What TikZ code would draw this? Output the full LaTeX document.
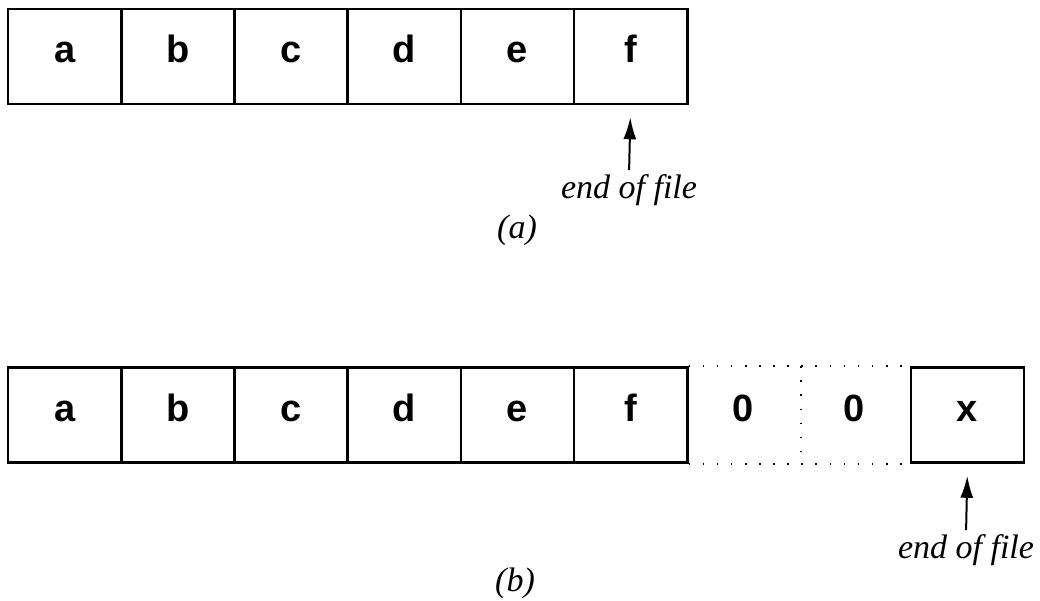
\documentclass[tikz,border=0pt]{standalone}
\usepackage{fontspec}
\setmainfont{Liberation Serif}
\setsansfont{Liberation Sans}
\usetikzlibrary{arrows.meta}
\tikzset{
  pix/.style={x={(1pt,0pt)}, y={(0pt,-1pt)}},
  cell/.style={draw=black, line width=2.6pt, minimum width=113.2pt, minimum height=95pt,
    inner sep=0pt, text height=27pt, text depth=14pt,
    font=\sffamily\bfseries\fontsize{38}{40}\selectfont},
  gcell/.style={cell, draw=none},                                   % cell of the gap (zeros)
  gline/.style={black, line width=1.6pt, dash pattern=on 1.6pt off 12.5pt}, % dotted gap outline
  eof/.style={font=\itshape\fontsize{34}{36}\selectfont, inner sep=0pt},
  partlabel/.style={font=\itshape\fontsize{34}{36}\selectfont, inner sep=0pt},
  eofarrow/.style={black, line width=2pt, -{Latex[length=22pt,width=13pt]}},
}
\begin{document}
\begin{tikzpicture}[pix]
  \useasboundingbox (0,0) rectangle (1040,601);
  % (a) the file as written
  \foreach \l [count=\i] in {a,b,c,d,e,f}
    \node[cell] (\l A) at ({8+113.2*(\i-0.5)},56.5) {\l};
  \node[eof] (eofA) at (629,190) {end of file};
  \draw[eofarrow, shorten <=4pt, shorten >=12pt] (eofA.north) -- (fA.south);
  \node[partlabel] (capA) at (517,230) {(a)};
  % (b) after a seek past the end and a write
  \foreach \l [count=\i] in {a,b,c,d,e,f}
    \node[cell] (\l B) at ({8+113.2*(\i-0.5)},415) {\l};
  \node[gcell] (zB1) at (743,415) {0};
  \node[gcell] (zB2) at (854,415) {0};
  \node[cell] (xB) at (967.5,415) {x};
  \draw[gline] (fB.north east) -- (xB.north west);
  \draw[gline] (fB.south east) -- (xB.south west);
  \draw[gline] (zB1.north east) -- (zB1.south east);
  \node[eof] (eofB) at (966,550) {end of file};
  \draw[eofarrow, shorten <=4pt, shorten >=12pt] (eofB.north) -- (xB.south);
  \node[partlabel] (capB) at (515,583) {(b)};
\end{tikzpicture}
\end{document}
